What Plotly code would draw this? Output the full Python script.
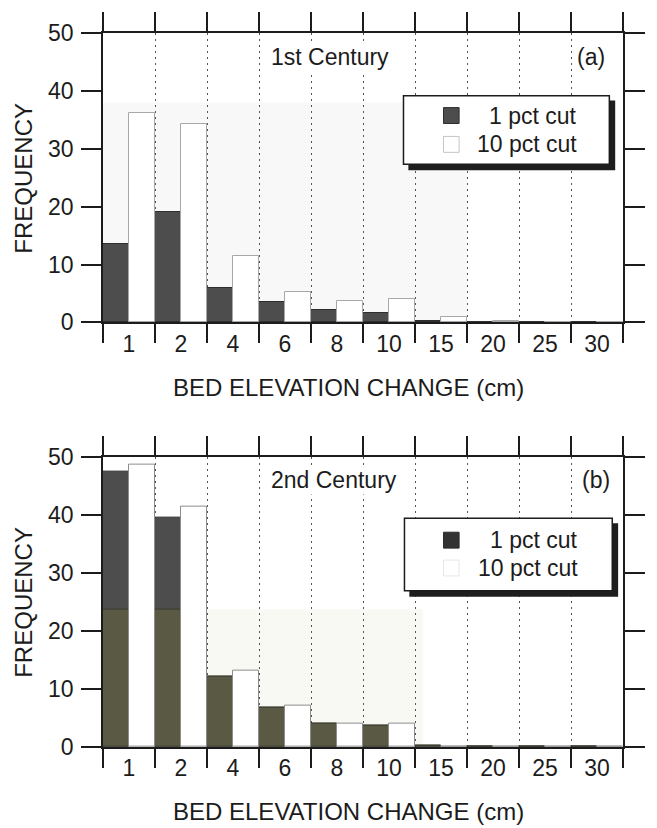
import numpy as np
import plotly.graph_objects as go

# Bin labels of bed elevation change (cm)
bins = ["1", "2", "4", "6", "8", "10", "15", "20", "25", "30"]

# Frequencies, 1st century
c1_pct1 = [13.6, 19.0, 6.0, 3.6, 2.2, 1.6, 0.3, 0.0, 0.0, 0.1]
c1_pct10 = [36.2, 34.3, 11.5, 5.3, 3.7, 4.0, 1.0, 0.2, 0.0, 0.0]

# Frequencies, 2nd century
c2_pct1 = [47.4, 39.5, 12.2, 6.7, 4.0, 3.6, 0.3, 0.0, 0.0, 0.0]
c2_pct10 = [48.6, 41.4, 13.1, 7.1, 4.1, 4.1, 0.1, 0.1, 0.0, 0.0]

series_names = ["1 pct cut", "10 pct cut"]
panel_titles = ["1st Century", "2nd Century"]
panel_tags = ["(a)", "(b)"]
x_title = "BED ELEVATION CHANGE (cm)"
y_title = "FREQUENCY"

FONT = "Liberation Sans, Arial, Helvetica, sans-serif"
INK = "#1c1c1c"
DARK = "#4d4d4d"
DARK_EDGE = "#2e2e2e"
OLIVE = "#5a5a44"
W, H = 657, 828
M = dict(l=103, r=21, t=29, b=81)


def px_x(px):
    return (px - M["l"]) / (W - M["l"] - M["r"])


def px_y(py):
    return (H - M["b"] - py) / (H - M["t"] - M["b"])


def label(text, px, py, size=23, xanchor="center", **kw):
    return dict(text=text, xref="paper", yref="paper", x=px_x(px), y=px_y(py),
                xanchor=xanchor, yanchor="middle", showarrow=False,
                font=dict(family=FONT, size=size, color=INK), **kw)


fig = go.Figure()

panels = [
    dict(xa="x", ya="y", d1=c1_pct1, d10=c1_pct10, edge10="#a8a8a8"),
    dict(xa="x2", ya="y2", d1=c2_pct1, d10=c2_pct10, edge10="#8c8c8c"),
]

for i, p in enumerate(panels):
    fig.add_trace(go.Bar(
        x=bins, y=p["d1"], name=series_names[0], offsetgroup="p1",
        marker=dict(color=DARK, line=dict(color=DARK_EDGE, width=1)),
        xaxis=p["xa"], yaxis=p["ya"], showlegend=False))
    if i == 1:
        # lower band of the dark bars printed with an olive cast
        fig.add_trace(go.Bar(
            x=bins, y=np.minimum(p["d1"], 23.7), offsetgroup="p1",
            marker=dict(color=OLIVE, line=dict(color="#3c3c2e", width=1)),
            xaxis=p["xa"], yaxis=p["ya"], showlegend=False, hoverinfo="skip"))
    fig.add_trace(go.Bar(
        x=bins, y=p["d10"], name=series_names[1], offsetgroup="p10",
        marker=dict(color="white", line=dict(color=p["edge10"], width=1)),
        xaxis=p["xa"], yaxis=p["ya"], showlegend=False))

xaxis_style = dict(
    type="category", categoryorder="array", categoryarray=bins,
    range=[-0.5, len(bins) - 0.5], tickson="boundaries",
    ticks="outside", ticklen=19, tickwidth=1.5, tickcolor=INK,
    showline=True, linewidth=1.5, linecolor=INK, mirror="ticks",
    showgrid=True, gridcolor="#555555", gridwidth=1, griddash="2px,4px",
    zeroline=False, ticklabelstandoff=0,
    tickfont=dict(family=FONT, size=23, color=INK),
)
yaxis_style = dict(
    range=[0, 50], tickvals=[0, 10, 20, 30, 40, 50],
    ticks="outside", ticklen=20, tickwidth=1.5, tickcolor=INK,
    showline=True, linewidth=1.5, linecolor=INK, mirror="ticks",
    showgrid=False, zeroline=False, ticklabelstandoff=3,
    tickfont=dict(family=FONT, size=23, color=INK),
)

fig.update_layout(
    width=W, height=H, autosize=False, margin=M,
    paper_bgcolor="white", plot_bgcolor="white",
    barmode="group", bargap=0, bargroupgap=0,
    xaxis=dict(xaxis_style, domain=[0, 1], anchor="y"),
    yaxis=dict(yaxis_style, domain=[px_y(320), 1], anchor="x"),
    xaxis2=dict(xaxis_style, domain=[0, 1], anchor="y2"),
    yaxis2=dict(yaxis_style, domain=[0, px_y(455)], anchor="x2"),
)

shapes = []
annotations = []

# faint toned areas of the printed page behind the bars
shapes.append(dict(type="rect", xref="x", yref="y", x0=-0.5, x1=6.5, y0=0, y1=38,
                   fillcolor="#f8f8f8", line=dict(width=0), layer="below"))
shapes.append(dict(type="rect", xref="x2", yref="y2", x0=-0.5, x1=5.65, y0=0, y1=23.7,
                   fillcolor="#f9f9f4", line=dict(width=0), layer="below"))

# panel geometry in pixels: (plot top, plot bottom)
panel_px = [(29, 320), (455, 747)]
legend_px = [
    dict(box=(411, 92, 622, 161), rows=(112, 141), text_right=591, edge2="#c4c4c4"),
    dict(box=(412, 517, 625, 590), rows=(539, 567), text_right=592, edge2="#e6e6e6"),
]

for i, (top, bot) in enumerate(panel_px):
    mid = (top + bot) / 2
    # panel title and tag
    annotations.append(label(panel_titles[i], 336 + 4 * i, top + 24,
                             bgcolor="white", borderpad=1))
    annotations.append(label(panel_tags[i], 603 + 5 * i, top + 24))
    # axis titles
    annotations.append(label(x_title, 355, bot + 65, size=24))
    annotations.append(label(y_title, 22, mid, size=24, textangle=-90))

    # legend box with drop shadow
    lg = legend_px[i]
    x0, y0, x1, y1 = lg["box"]
    shapes.append(dict(type="rect", xref="paper", yref="paper",
                       x0=px_x(x0 + 5), x1=px_x(x1 + 6), y0=px_y(y0 + 5), y1=px_y(y1 + 6),
                       fillcolor="#1e1e1e", line=dict(width=0), layer="above"))
    shapes.append(dict(type="rect", xref="paper", yref="paper",
                       x0=px_x(x0), x1=px_x(x1), y0=px_y(y0), y1=px_y(y1),
                       fillcolor="white", line=dict(color=INK, width=1.5), layer="above"))
    swatches = [(DARK if i == 0 else "#333333", DARK_EDGE), ("white", lg["edge2"])]
    for (fill, edge), ry, name in zip(swatches, lg["rows"], series_names):
        shapes.append(dict(type="rect", xref="paper", yref="paper",
                           x0=px_x(452), x1=px_x(468), y0=px_y(ry - 8), y1=px_y(ry + 8),
                           fillcolor=fill, line=dict(color=edge, width=1), layer="above"))
        annotations.append(label(name, lg["text_right"], ry, xanchor="right"))

fig.update_layout(shapes=shapes, annotations=annotations)

fig.write_html("out.html")
